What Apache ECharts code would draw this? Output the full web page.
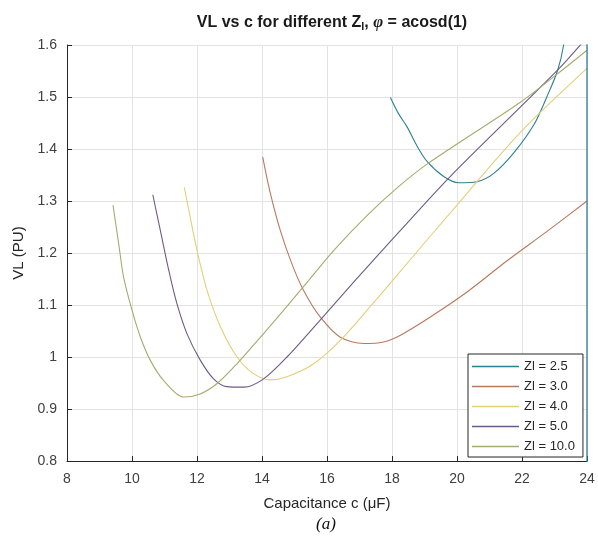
<!DOCTYPE html>
<html>
<head>
<meta charset="utf-8">
<script src="https://cdn.jsdelivr.net/npm/echarts@6/dist/echarts.min.js"></script>
<style>
html,body{margin:0;padding:0;background:#fff;}
#chart{width:598px;height:543px;}
</style>
</head>
<body>
<div id="chart"></div>
<script>
// Data
const seriesNames = ['Zl = 2.5', 'Zl = 3.0', 'Zl = 4.0', 'Zl = 5.0', 'Zl = 10.0'];

const c25 = [17.95, 18.2, 18.46, 18.75, 19.08, 19.59, 20.05, 20.62, 21.13, 21.74, 22.36, 22.77, 23.10, 23.28, 23.6];
const v25 = [1.499, 1.468, 1.443, 1.408, 1.376, 1.347, 1.335, 1.337, 1.353, 1.392, 1.446, 1.501, 1.552, 1.600, 1.75];
// vertical Zl = 2.5 trace along c = 24
const c25edge = [24.0, 24.0];
const v25edge = [1.65, 0.75];

const c30 = [14.02, 14.26, 14.56, 14.92, 15.28, 15.79, 16.41, 17.13, 17.74, 18.26, 19.18, 20.31, 21.54, 22.8, 24.0];
const v30 = [1.385, 1.314, 1.244, 1.179, 1.128, 1.077, 1.038, 1.026, 1.029, 1.042, 1.077, 1.125, 1.185, 1.243, 1.300];

const c40 = [11.61, 11.79, 12.0, 12.31, 12.72, 13.23, 13.74, 14.26, 14.77, 15.59, 16.41, 17.44, 17.95, 18.56, 19.9, 21.95, 24.0];
const v40 = [1.326, 1.269, 1.205, 1.128, 1.058, 1.000, 0.968, 0.956, 0.962, 0.987, 1.032, 1.105, 1.142, 1.187, 1.285, 1.432, 1.555];

const c50 = [10.64, 10.87, 11.13, 11.38, 11.69, 12.10, 12.51, 12.92, 13.44, 14.05, 14.77, 15.79, 16.82, 18.21, 19.79, 23.10, 24.0];
const v50 = [1.312, 1.244, 1.167, 1.103, 1.045, 0.994, 0.958, 0.943, 0.942, 0.958, 1.000, 1.071, 1.144, 1.240, 1.347, 1.552, 1.615];

const c100 = [9.415, 9.59, 9.74, 10.0, 10.26, 10.56, 10.97, 11.59, 12.10, 12.62, 13.23, 14.05, 15.18, 16.21, 17.23, 18.21, 19.08, 21.95, 23.10, 24.0];
const v100 = [1.292, 1.218, 1.154, 1.090, 1.038, 0.994, 0.955, 0.923, 0.929, 0.949, 0.987, 1.045, 1.128, 1.205, 1.272, 1.328, 1.371, 1.490, 1.545, 1.590];

const xTicks = [8, 10, 12, 14, 16, 18, 20, 22, 24];
const yTicks = [0.8, 0.9, 1, 1.1, 1.2, 1.3, 1.4, 1.5, 1.6];

const colors = ['#2f7f93', '#b8795f', '#e3cf78', '#6e5a86', '#a6ab6e'];

const xs = [c25, c30, c40, c50, c100];
const ys = [v25, v30, v40, v50, v100];

function pairs(x, y) { return x.map((v, i) => [v, y[i]]); }

const chart = echarts.init(document.getElementById('chart'), null, {renderer: 'canvas'});
const FONT = 'Liberation Sans, Arial, sans-serif';

const series = seriesNames.map((name, i) => ({
  name: name,
  type: 'line',
  data: pairs(xs[i], ys[i]),
  symbol: 'none',
  smooth: 0.3,
  clip: true,
  color: colors[i],
  lineStyle: {color: colors[i], width: 1.1}
}));
series.push({
  name: seriesNames[0],
  type: 'line',
  data: pairs(c25edge, v25edge),
  symbol: 'none',
  smooth: false,
  clip: true,
  color: colors[0],
  lineStyle: {color: colors[0], width: 1.3}
});

chart.setOption({
  animation: false,
  backgroundColor: '#fff',
  title: {
    text: 'VL vs c for different Z{sub|l}, {phi|φ} = acosd(1)',
    left: 327, top: 8, textAlign: 'center',
    textStyle: {
      fontFamily: FONT, fontSize: 16, fontWeight: 'bold', color: '#1a1a1a',
      rich: {
        sub: {fontFamily: FONT, fontSize: 11, fontWeight: 'bold', color: '#1a1a1a', verticalAlign: 'bottom', padding: [8, 0, 0, 0]},
        phi: {fontFamily: 'Liberation Serif, serif', fontSize: 17, fontStyle: 'italic', color: '#1a1a1a'}
      }
    }
  },
  legend: {
    orient: 'vertical',
    left: 468, top: 354,
    icon: 'rect',
    itemWidth: 47, itemHeight: 1.3, itemGap: 5,
    padding: [5, 8, 3, 4],
    backgroundColor: '#fff',
    borderColor: '#262626', borderWidth: 1, borderRadius: 0,
    textStyle: {fontFamily: FONT, fontSize: 13, color: '#262626', lineHeight: 15},
    data: seriesNames
  },
  grid: {left: 67, right: 11, top: 45, bottom: 82, containLabel: false},
  xAxis: {
    type: 'value', min: xTicks[0], max: xTicks[xTicks.length - 1], interval: 2,
    name: 'Capacitance c (μF)', nameLocation: 'middle', nameGap: 35,
    nameTextStyle: {fontFamily: FONT, fontSize: 15, color: '#262626'},
    axisLine: {show: true, onZero: false, lineStyle: {color: '#262626', width: 1}},
    axisTick: {show: true, inside: true, length: 5, lineStyle: {color: '#262626'}},
    axisLabel: {fontFamily: FONT, fontSize: 14, color: '#404040', margin: 11},
    splitLine: {show: true, lineStyle: {color: '#e3e3e3', width: 1}}
  },
  yAxis: {
    type: 'value', min: yTicks[0], max: yTicks[yTicks.length - 1], interval: 0.1,
    name: 'VL (PU)', nameLocation: 'middle', nameGap: 34, nameRotate: 90,
    nameTextStyle: {fontFamily: FONT, fontSize: 15, color: '#262626'},
    axisLine: {show: true, onZero: false, lineStyle: {color: '#262626', width: 1}},
    axisTick: {show: true, inside: true, length: 5, lineStyle: {color: '#262626'}},
    axisLabel: {fontFamily: FONT, fontSize: 14, color: '#404040', margin: 10,
      formatter: v => String(+v.toFixed(1))},
    splitLine: {show: true, lineStyle: {color: '#e3e3e3', width: 1}}
  },
  graphic: [{
    type: 'text', left: 316, top: 516,
    style: {text: '(a)', fontFamily: 'Liberation Serif, Times New Roman, serif', fontSize: 17, fontStyle: 'italic', fill: '#111'}
  }],
  series: series
});
</script>
</body>
</html>
